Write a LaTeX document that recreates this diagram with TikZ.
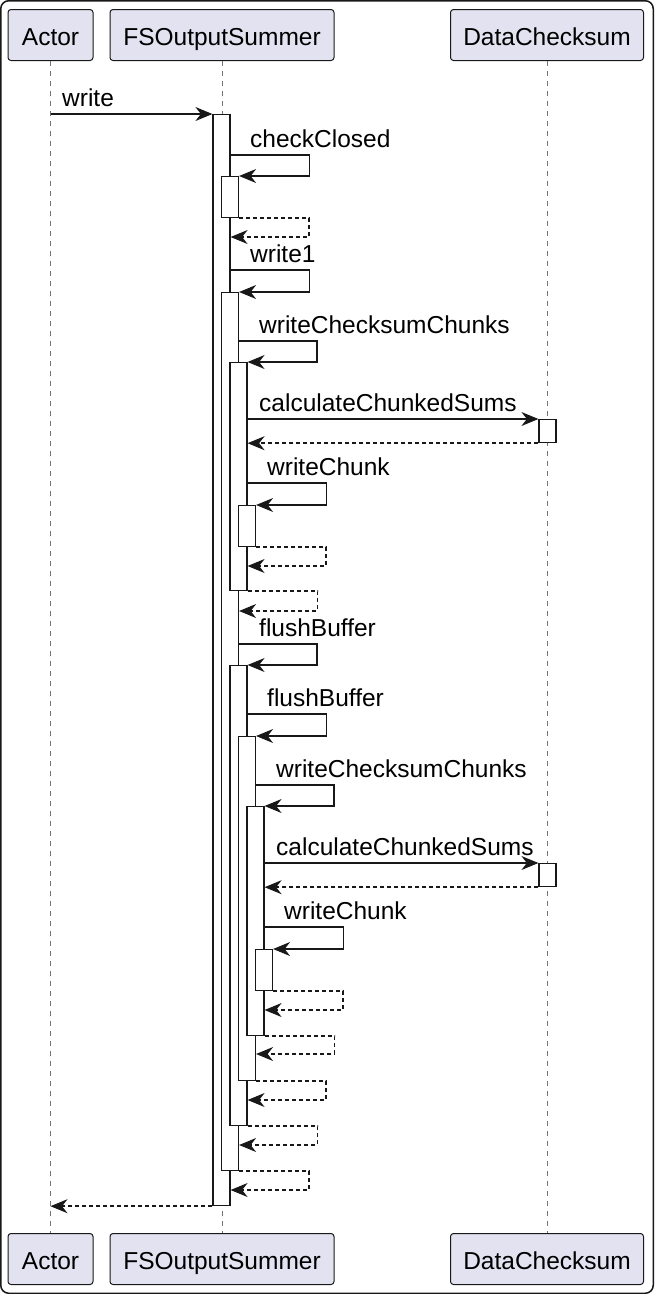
\documentclass[tikz,border=0pt]{standalone}
\usepackage{fontspec}
\setmainfont{Liberation Sans}
\usetikzlibrary{arrows.meta}
\definecolor{partfill}{HTML}{E2E2F0}
\definecolor{umlline}{HTML}{181818}

\begin{document}
\begin{tikzpicture}[x=1pt, y=-1pt,
    part/.style={draw=umlline, fill=partfill, line width=1pt, rounded corners=3pt,
      minimum height=51pt, inner xsep=0pt, inner ysep=0pt, text height=20pt, text depth=0pt,
      font=\fontsize{24.5}{28}\selectfont},
    lifeline/.style={draw=umlline!60, line width=0.8pt, dash pattern=on 5pt off 5pt},
    actbar/.style={draw=umlline, fill=white, line width=1.2pt, minimum width=17pt,
      inner sep=0pt, anchor=north},
    msg/.style={draw=umlline, line width=1.5pt,
      -{Stealth[length=17pt,width=14pt,inset=5.5pt,line width=1pt]}},
    ret/.style={msg, dash pattern=on 4pt off 3pt},
    lbl/.style={anchor=base west, inner sep=0pt, font=\fontsize{24.5}{28}\selectfont}]
    \useasboundingbox (0,0) rectangle (654,1294);
    \draw[umlline, line width=1.5pt, rounded corners=8pt] (0.75,0.75) rectangle (653.25,1293.25);

    % participants
    \node[part, minimum width=85pt] (actorTop) at (50.5,35) {Actor};
    \node[part, minimum width=224pt] (fsosTop) at (222,35) {FSOutputSummer};
    \node[part, minimum width=193pt] (dcsTop) at (547,35) {DataChecksum};
    \node[part, minimum width=85pt] (actorBot) at (50.5,1259) {Actor};
    \node[part, minimum width=224pt] (fsosBot) at (222,1259) {FSOutputSummer};
    \node[part, minimum width=193pt] (dcsBot) at (547,1259) {DataChecksum};

    \draw[lifeline] (actorTop) -- (actorBot);
    \draw[lifeline] (fsosTop) -- (fsosBot);
    \draw[lifeline] (dcsTop) -- (dcsBot);

    % activations
    \node[actbar, minimum height=1091pt] (a1) at (221.5,114) {};
    \node[actbar, minimum height=41pt] (a2) at (230,176) {};
    \node[actbar, minimum height=878pt] (a3) at (230,292) {};
    \node[actbar, minimum height=228pt] (a4) at (238.5,362) {};
    \node[actbar, minimum height=23pt] (d1) at (547.5,419) {};
    \node[actbar, minimum height=41pt] (a5) at (247,505) {};
    \node[actbar, minimum height=460pt] (a6) at (238.5,665) {};
    \node[actbar, minimum height=344pt] (a7) at (247,736) {};
    \node[actbar, minimum height=229pt] (a8) at (255.5,806) {};
    \node[actbar, minimum height=23pt] (d2) at (547.5,863) {};
    \node[actbar, minimum height=41pt] (a9) at (264,949) {};

    % messages
    \draw[msg] (actorTop |- a1.north) -- (a1.north west);
    \node[lbl] (lWrite) at (62,106) {write};

    \draw[msg] (a1.east |- 0,155) -- ++(79,0) |- (a2.north east);
    \node[lbl] (lCheck) at (250,147) {checkClosed};
    \draw[ret] (a2.south east) -- ++(70,0) |- (a1.east |- 0,237);

    \draw[msg] (a1.east |- 0,270) -- ++(79,0) |- (a3.north east);
    \node[lbl] (lWrite1) at (250,262) {write1};

    \draw[msg] (a3.east |- 0,341) -- ++(78,0) |- (a4.north east);
    \node[lbl] (lChunks) at (259,333) {writeChecksumChunks};

    \draw[msg] (a4.east |- d1.north) -- (d1.north west);
    \node[lbl] (lCalc) at (259,411) {calculateChunkedSums};
    \draw[ret] (d1.south west) -- (a4.east |- d1.south);

    \draw[msg] (a4.east |- 0,483) -- ++(79,0) |- (a5.north east);
    \node[lbl] (lChunk) at (267,475) {writeChunk};
    \draw[ret] (a5.south east) -- ++(70,0) |- (a4.east |- 0,566);
    \draw[ret] (a4.south east) -- ++(70,0) |- (a3.east |- 0,611);

    \draw[msg] (a3.east |- 0,644) -- ++(78,0) |- (a6.north east);
    \node[lbl] (lFlush) at (259,636) {flushBuffer};

    \draw[msg] (a6.east |- 0,714) -- ++(79,0) |- (a7.north east);
    \node[lbl] (lFlush2) at (267,706) {flushBuffer};

    \draw[msg] (a7.east |- 0,785) -- ++(78,0) |- (a8.north east);
    \node[lbl] (lChunks2) at (276,777) {writeChecksumChunks};

    \draw[msg] (a8.east |- d2.north) -- (d2.north west);
    \node[lbl] (lCalc2) at (276,855) {calculateChunkedSums};
    \draw[ret] (d2.south west) -- (a8.east |- d2.south);

    \draw[msg] (a8.east |- 0,927) -- ++(79,0) |- (a9.north east);
    \node[lbl] (lChunk2) at (284,919) {writeChunk};
    \draw[ret] (a9.south east) -- ++(70,0) |- (a8.east |- 0,1010);
    \draw[ret] (a8.south east) -- ++(70,0) |- (a7.east |- 0,1054);
    \draw[ret] (a7.south east) -- ++(70,0) |- (a6.east |- 0,1100);
    \draw[ret] (a6.south east) -- ++(70,0) |- (a3.east |- 0,1145);
    \draw[ret] (a3.south east) -- ++(70,0) |- (a1.east |- 0,1190);

    \draw[ret] (a1.south west) -- (actorBot |- a1.south);
\end{tikzpicture}
\end{document}
